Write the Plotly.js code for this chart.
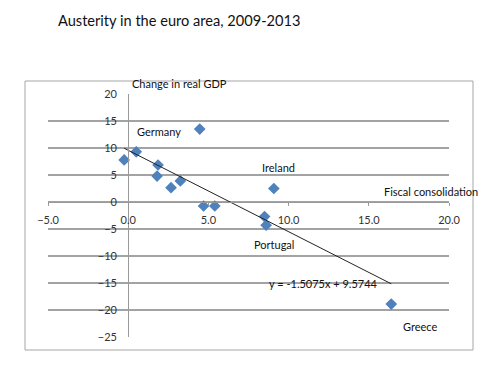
<!DOCTYPE html>
<html><head><meta charset="utf-8">
<script src="https://cdn.plot.ly/plotly-3.0.1.min.js"></script>
<style>body{margin:0;background:#fff}#chart{width:503px;height:367px}</style>
</head><body><div id="chart"></div>
<script>
// Fiscal consolidation (x) vs change in real GDP (y), 2009-2013
const fiscal = [-0.25, 0.5, 1.86, 1.8, 2.67, 3.25, 4.46, 4.7, 5.4, 9.08, 8.5, 8.6, 16.4];
const gdp    = [7.8, 9.3, 6.85, 4.8, 2.65, 3.9, 13.5, -0.74, -0.74, 2.5, -2.7, -4.3, -18.9];
const slope = -1.5075, intercept = 9.5744;
const trendX = [Math.min(...fiscal), Math.max(...fiscal)];
const trendY = trendX.map(v => slope * v + intercept);
const labelText = ["Germany", "Ireland", "Portugal", "Greece", "Fiscal consolidation", "y = -1.5075x + 9.5744"];
const labelX = [1.95, 9.35, 9.08, 18.2, 18.9, 12.2];
const labelY = [13.0, 6.35, -7.8, -23.0, 2.0, -15.05];
const xTicks = [-5, 0, 5, 10, 15, 20];
const yTicks = [-25, -20, -15, -10, -5, 0, 5, 10, 15, 20];

const font = "Lato, 'Open Sans', sans-serif";
const data = [
  {x: fiscal, y: gdp, type: 'scatter', mode: 'markers',
   marker: {symbol: 'diamond', size: 9, color: '#4f81bd'}, cliponaxis: false},
  {x: trendX, y: trendY, type: 'scatter', mode: 'lines',
   line: {color: '#222', width: 1}}
];
const annotations = labelText.map((t, i) => ({
  x: labelX[i], y: labelY[i], xref: 'x', yref: 'y', text: t, showarrow: false,
  font: {family: font, size: 11, color: '#111'}
}));
annotations.push({x: (130-48)/401, y: (337-75)/243, xref: 'paper', yref: 'paper',
  text: 'Change in real GDP', showarrow: false, font: {family: font, size: 11, color: '#111'}});
const layout = {
  width: 503, height: 367,
  margin: {l: 48, r: 54, t: 94, b: 30},
  paper_bgcolor: '#fff', plot_bgcolor: 'rgba(0,0,0,0)',
  showlegend: false,
  title: {text: 'Austerity in the euro area, 2009-2013', x: 58/503, xanchor: 'left',
          y: 1 - 21/367, yanchor: 'middle', font: {family: font, size: 14.6, color: '#111'}},
  xaxis: {range: [-5, 20], tickvals: xTicks, tickformat: '.1f', anchor: 'free', position: 25/45,
          showgrid: false, zeroline: false, showline: true, linecolor: '#999', linewidth: 1,
          ticks: 'outside', ticklen: 3, tickcolor: '#999', ticklabelstandoff: 5,
          tickfont: {family: font, size: 11, color: '#333'}},
  yaxis: {range: [-25, 20], tickvals: yTicks, anchor: 'free', position: 5/25,
          showgrid: true, gridcolor: '#a3a3a3', gridwidth: 1.5, zeroline: false,
          showline: true, linecolor: '#999', linewidth: 1, ticks: '', ticklabelstandoff: 9,
          tickfont: {family: font, size: 11, color: '#333'}},
  annotations: annotations,
  shapes: [{type: 'rect', xref: 'paper', yref: 'paper',
            x0: (25-48)/401, x1: (473-48)/401, y0: (337-350)/243, y1: (337-81)/243,
            line: {color: '#a6a6a6', width: 1}}]
};
Plotly.newPlot('chart', data, layout, {staticPlot: true});
</script></body></html>
